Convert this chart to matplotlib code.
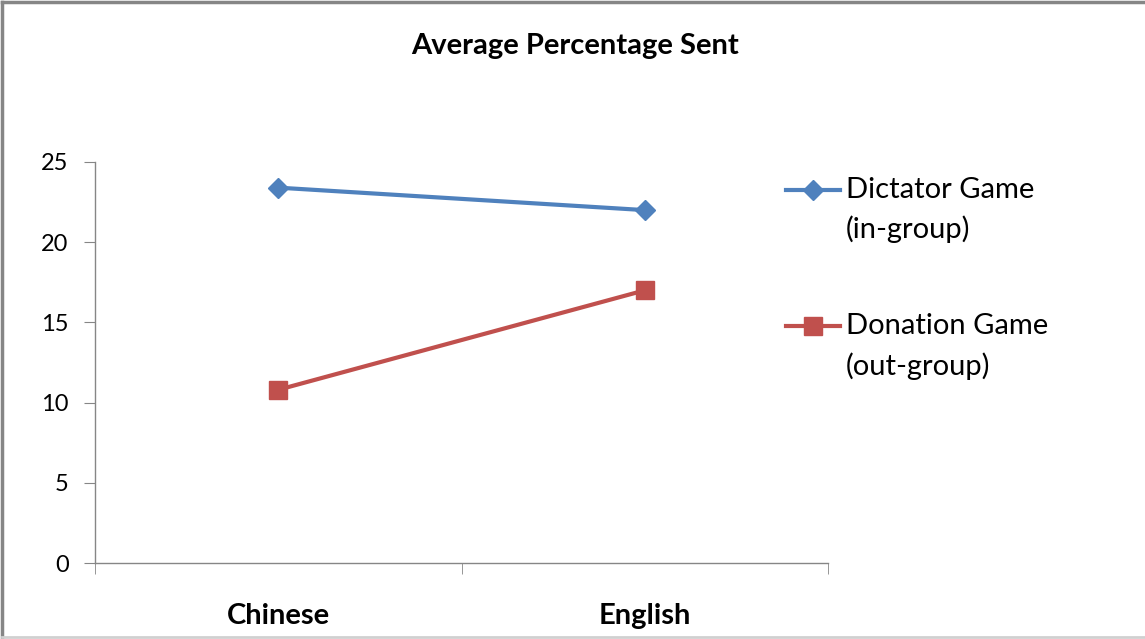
import matplotlib.pyplot as plt
from matplotlib.lines import Line2D
from matplotlib.legend_handler import HandlerLine2D

categories = ["Chinese", "English"]
dictator = [23.4, 22.0]
donation = [10.8, 17.0]
series_labels = ["Dictator Game\n(in-group)", "Donation Game\n(out-group)"]
yticks = [0, 5, 10, 15, 20, 25]

plt.rcParams['font.family'] = ['Lato', 'DejaVu Sans']


# legend handle sits next to the first text line, like Excel does
class FirstLineHandler(HandlerLine2D):
    def __init__(self, shift, **kw):
        super().__init__(**kw)
        self.shift = shift

    def create_artists(self, legend, orig_handle, xdescent, ydescent,
                       width, height, fontsize, trans):
        return super().create_artists(legend, orig_handle, xdescent,
                                      ydescent - self.shift, width,
                                      height + self.shift, fontsize, trans)


fig = plt.figure(figsize=(11.45, 6.39), dpi=100)
ax = fig.add_axes([0.083, 0.1189, 0.6402, 0.6276])

x = list(range(len(categories)))
l1, = ax.plot(x, dictator, color='#4F81BD', lw=3, marker='D', ms=10,
              label=series_labels[0])
l2, = ax.plot(x, donation, color='#C0504D', lw=3, marker='s', ms=13,
              label=series_labels[1])

ax.set_xlim(-0.5, len(categories) - 0.5)
ax.set_ylim(0, 25)
ax.set_yticks(yticks)
ax.set_xticks(x)
ax.set_xticklabels(categories, fontsize=21, fontweight='bold')
ax.set_xticks([i - 0.5 for i in range(len(categories) + 1)], minor=True)
ax.tick_params(axis='x', which='major', length=0, pad=29)
ax.tick_params(axis='x', which='minor', length=8, color='#868686')
ax.tick_params(axis='y', length=8, color='#868686', labelsize=17, pad=11)

for s in ['top', 'right']:
    ax.spines[s].set_visible(False)
for s in ['left', 'bottom']:
    ax.spines[s].set_color('#868686')
    ax.spines[s].set_linewidth(1)

fig.text(0.502, 1 - 46 / 639, "Average Percentage Sent", fontsize=21,
         fontweight='bold', ha='center', va='center')

leg = fig.legend(handles=[l1, l2], loc='upper left',
                 bbox_to_anchor=(786 / 1145, 1 - 177 / 639), frameon=False,
                 fontsize=21, labelspacing=2.4, handlelength=1.85,
                 handletextpad=0.2, borderpad=0, borderaxespad=0,
                 handler_map={Line2D: FirstLineHandler(shift=15)})
for t in leg.get_texts():
    t.set_linespacing(1.57)

# outer chart frame
fig.add_artist(Line2D([0.002, 0.002], [0.003, 0.997], color='#868686', lw=2.5))
fig.add_artist(Line2D([0.002, 1.0], [0.997, 0.997], color='#868686', lw=2.5))
fig.add_artist(Line2D([0.002, 1.0], [0.003, 0.003], color='#d0d0d0', lw=2))

fig.savefig("out.png", dpi=100)
